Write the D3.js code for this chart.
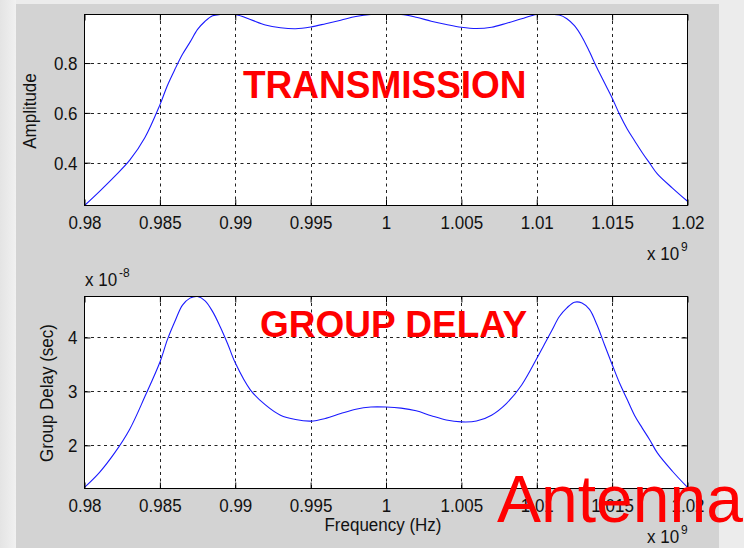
<!DOCTYPE html>
<html>
<head>
<meta charset="utf-8">
<script src="https://cdn.jsdelivr.net/npm/d3@7/dist/d3.min.js"></script>
<style>
  html, body { margin: 0; padding: 0; background: #ebebeb; }
  svg { display: block; }
  text { font-family: "Liberation Sans", Arial, Helvetica, sans-serif; }
</style>
</head>
<body>
<svg id="chart" width="744" height="548"></svg>
<script>
// Frequency axis (units of 1e9 Hz)
const freqTicks = [0.98, 0.985, 0.99, 0.995, 1, 1.005, 1.01, 1.015, 1.02];

// Transmission amplitude
const transFreq = [0.980, 0.981, 0.982, 0.983, 0.984, 0.985, 0.9855, 0.986, 0.9865, 0.987, 0.9875, 0.988, 0.9885, 0.989,
  0.990, 0.991, 0.992, 0.993, 0.994, 0.995, 0.996, 0.997, 0.998, 0.999, 1.000, 1.001, 1.002, 1.003, 1.004, 1.005,
  1.006, 1.007, 1.008, 1.009, 1.010, 1.011, 1.0115, 1.012, 1.0125, 1.013, 1.0135, 1.014, 1.0145, 1.015, 1.0155,
  1.016, 1.0165, 1.017, 1.0175, 1.018, 1.019, 1.020];
const transAmp = [0.228, 0.285, 0.345, 0.41, 0.5, 0.632, 0.71, 0.775, 0.835, 0.884, 0.935, 0.968, 0.99, 0.995,
  0.995, 0.975, 0.953, 0.942, 0.938, 0.945, 0.958, 0.972, 0.987, 0.995, 0.995, 0.995, 0.984, 0.968, 0.955, 0.944,
  0.939, 0.944, 0.96, 0.978, 0.995, 0.995, 0.993, 0.978, 0.95, 0.905, 0.845, 0.78, 0.72, 0.66, 0.593,
  0.535, 0.487, 0.44, 0.397, 0.355, 0.298, 0.245];
const ampTicks = [0.4, 0.6, 0.8];
const ampDomain = [0.228, 0.995];

// Group delay (units of 1e-8 s)
const delayFreq = [0.980, 0.981, 0.982, 0.983, 0.984, 0.985, 0.9855, 0.986, 0.9865, 0.987, 0.9875, 0.988, 0.9885, 0.989,
  0.9895, 0.990, 0.991, 0.992, 0.993, 0.994, 0.995, 0.996, 0.997, 0.998, 0.999, 1.000, 1.001, 1.002, 1.003, 1.004,
  1.005, 1.006, 1.007, 1.008, 1.009, 1.010, 1.0105, 1.011, 1.0115, 1.012, 1.0125, 1.013, 1.0135, 1.014, 1.0145,
  1.015, 1.0155, 1.016, 1.0165, 1.017, 1.0175, 1.018, 1.019, 1.020];
const delayVal = [1.22, 1.5, 1.86, 2.3, 2.9, 3.54, 3.96, 4.3, 4.6, 4.73, 4.76, 4.68, 4.48, 4.2,
  3.88, 3.53, 3.03, 2.75, 2.56, 2.48, 2.45, 2.5, 2.59, 2.67, 2.71, 2.71, 2.69, 2.64, 2.55, 2.47,
  2.435, 2.45, 2.56, 2.78, 3.12, 3.61, 3.87, 4.13, 4.39, 4.55, 4.655, 4.64, 4.52, 4.23, 3.86,
  3.5, 3.15, 2.85, 2.55, 2.32, 2.1, 1.86, 1.52, 1.22];
const delayTicks = [2, 3, 4];
const delayDomain = [1.2, 4.76];

const svg = d3.select("#chart");

// page and figure backgrounds
const grad = svg.append("defs").append("linearGradient").attr("id", "edge").attr("x1", 0).attr("x2", 1);
grad.append("stop").attr("offset", 0).attr("stop-color", "#e4e4e4");
grad.append("stop").attr("offset", 1).attr("stop-color", "#f1f1f1");
svg.append("rect").attr("width", 744).attr("height", 548).attr("fill", "#ececec");
svg.append("rect").attr("width", 16).attr("height", 548).attr("fill", "url(#edge)");
svg.append("rect").attr("x", 16).attr("y", 4).attr("width", 703).attr("height", 544).attr("fill", "#d3d3d3");

const x = d3.scaleLinear().domain([0.98, 1.02]).range([84.5, 687.5]);
const fmt = d => String(+d.toFixed(3));
const TXT = "#111";
const vStretch = 1.12;

function panel(id, top, bottom, domain, yTicks, fx, fy) {
  const y = d3.scaleLinear().domain(domain).range([bottom, top]);
  const g = svg.append("g").attr("id", id);
  const clipId = id + "-clip";
  g.append("clipPath").attr("id", clipId).append("rect")
    .attr("x", x.range()[0]).attr("y", top).attr("width", x.range()[1] - x.range()[0]).attr("height", bottom - top);
  g.append("rect").attr("x", x.range()[0]).attr("y", top)
    .attr("width", x.range()[1] - x.range()[0]).attr("height", bottom - top).attr("fill", "#fff");

  // dashed grid
  const grid = g.append("g").attr("stroke", "#222").attr("stroke-width", 1).attr("stroke-dasharray", "3,3.5");
  grid.selectAll("line.vx").data(freqTicks.slice(1, -1)).join("line")
    .attr("x1", d => Math.round(x(d)) + 0.5).attr("x2", d => Math.round(x(d)) + 0.5)
    .attr("y1", top).attr("y2", bottom);
  grid.selectAll("line.hy").data(yTicks).join("line")
    .attr("x1", x.range()[0]).attr("x2", x.range()[1])
    .attr("y1", d => Math.round(y(d)) + 0.5).attr("y2", d => Math.round(y(d)) + 0.5);

  // curve
  const line = d3.line().x(d => x(d[0])).y(d => y(d[1])).curve(d3.curveCatmullRom.alpha(0.5));
  g.append("path").datum(d3.zip(fx, fy)).attr("clip-path", `url(#${clipId})`)
    .attr("fill", "none").attr("stroke", "#1a1aff").attr("stroke-width", 1.1).attr("d", line);

  // axes with inward ticks on all four sides
  const styleAxis = a => {
    a.select(".domain").remove();
    a.selectAll(".tick line").attr("stroke", "#000");
    a.selectAll("text").attr("fill", TXT).attr("font-size", 17)
      .attr("font-family", "Liberation Sans, Arial, sans-serif");
  };
  const bx = g.append("g").attr("transform", `translate(0,${bottom})`)
    .call(d3.axisBottom(x).tickValues(freqTicks).tickFormat(fmt).tickSize(-6).tickPadding(9));
  styleAxis(bx);
  bx.selectAll("text").attr("transform", `scale(1,${vStretch})`);
  const tx = g.append("g").attr("transform", `translate(0,${top})`)
    .call(d3.axisTop(x).tickValues(freqTicks).tickFormat("").tickSize(-6));
  styleAxis(tx);
  const ly = g.append("g").attr("transform", `translate(${x.range()[0]},0)`)
    .call(d3.axisLeft(y).tickValues(yTicks).tickFormat(fmt).tickSize(-6).tickPadding(7));
  styleAxis(ly);
  ly.selectAll("text").attr("y", 0).attr("dy", "0.34em").attr("transform", `scale(1,${vStretch})`);
  const ry = g.append("g").attr("transform", `translate(${x.range()[1]},0)`)
    .call(d3.axisRight(y).tickValues(yTicks).tickFormat("").tickSize(-6));
  styleAxis(ry);

  g.append("rect").attr("x", x.range()[0]).attr("y", top)
    .attr("width", x.range()[1] - x.range()[0]).attr("height", bottom - top)
    .attr("fill", "none").attr("stroke", "#000").attr("stroke-width", 1);
  return y;
}

panel("transmission", 14.5, 205.5, ampDomain, ampTicks, transFreq, transAmp);
panel("delay", 296.5, 488.5, delayDomain, delayTicks, delayFreq, delayVal);

// axis labels and exponent notes
function label(txt, px, py, opts = {}) {
  return svg.append("text")
    .attr("transform", `translate(${px},${py}) rotate(${opts.rot || 0}) scale(1,${vStretch})`)
    .attr("text-anchor", opts.anchor || "start")
    .attr("font-size", opts.size || 17).attr("fill", TXT).text(txt);
}
function exponent(base, sup, px, py) {
  label(base, px, py);
  label(sup, px + 34, py - 9, { size: 12 });
}
label("Amplitude", 36, 111, { rot: -90, anchor: "middle" });
label("Group Delay (sec)", 53, 393, { rot: -90, anchor: "middle" });
label("Frequency (Hz)", 383, 531, { anchor: "middle" });
exponent("x 10", "9", 647, 260);
exponent("x 10", "-8", 85, 286);
exponent("x 10", "9", 647, 543);

// titles
function title(txt, px, py, size, weight, sy) {
  svg.append("text").attr("transform", `translate(${px},${py}) scale(1,${sy})`)
    .attr("font-size", size).attr("font-weight", weight).attr("fill", "#ff0000").text(txt);
}
title("TRANSMISSION", 243, 98, 37, "bold", 1.06);
title("GROUP DELAY", 260, 337, 37, "bold", 1.0);
title("Antenna", 497, 522, 66, "normal", 1.0);
</script>
</body>
</html>
